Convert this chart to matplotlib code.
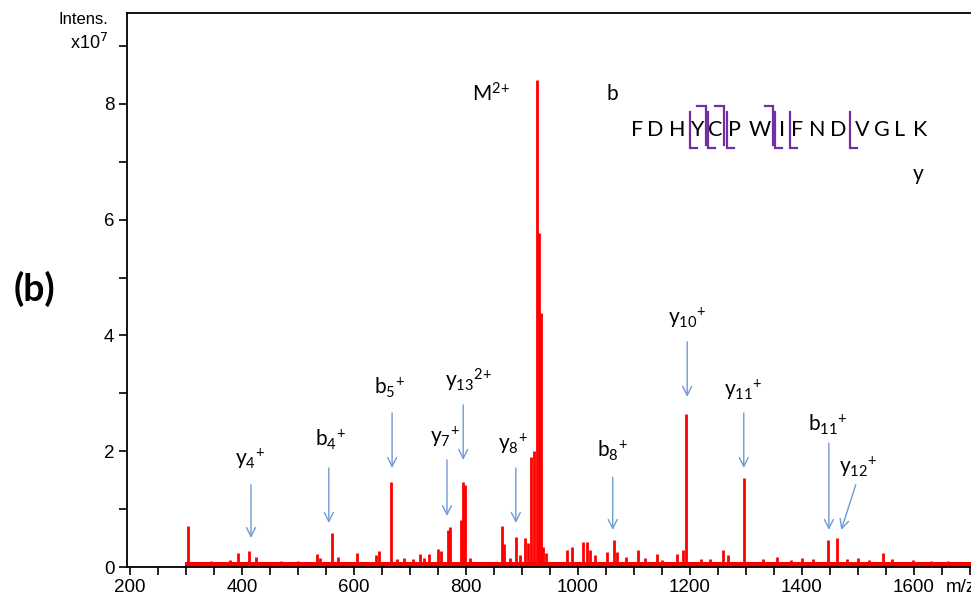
import matplotlib
matplotlib.use("Agg")
import matplotlib.pyplot as plt
from matplotlib.ticker import MultipleLocator, FixedLocator

plt.rcParams["font.family"] = ["Liberation Sans", "DejaVu Sans"]
plt.rcParams["mathtext.fontset"] = "custom"
plt.rcParams["mathtext.rm"] = "Lato"
plt.rcParams["mathtext.it"] = "Lato:italic"
plt.rcParams["mathtext.bf"] = "Lato:bold"

# peak list (m/z, intensity x1e7)
peak_mz = [303.6, 345, 378.6, 392.9, 412.5, 425, 470, 500, 533.9, 539, 560.7,
           571.4, 605.4, 639.3, 644.6, 666, 676.8, 690, 705, 717.9, 725, 734,
           750, 755.4, 767.9, 771.4, 791, 794.6, 798.2, 807, 864.3, 867.9,
           878.6, 889.3, 896, 905.4, 910.7, 916, 921.4, 926.8, 929.5, 933.4,
           937.5, 942.9, 980.4, 989.3, 1008.9, 1016, 1021.4, 1030, 1051.8,
           1064.3, 1069.6, 1085, 1107.1, 1120, 1141, 1150, 1176.8, 1187.5,
           1192.9, 1220, 1235, 1258.9, 1267.9, 1296.4, 1330, 1355.4, 1380,
           1400, 1420, 1446.4, 1462.5, 1480, 1500, 1520, 1544.6, 1560,
           1598.2, 1630, 1660]
peak_int = [0.71, 0.10, 0.12, 0.24, 0.28, 0.17, 0.10, 0.10, 0.22, 0.16, 0.59,
            0.17, 0.24, 0.20, 0.28, 1.47, 0.14, 0.15, 0.14, 0.22, 0.15, 0.22,
            0.31, 0.28, 0.64, 0.69, 0.81, 1.47, 1.42, 0.15, 0.71, 0.40,
            0.15, 0.52, 0.20, 0.50, 0.42, 1.90, 2.00, 8.41, 5.77, 4.39,
            0.35, 0.25, 0.30, 0.34, 0.44, 0.44, 0.29, 0.20, 0.26,
            0.47, 0.26, 0.18, 0.30, 0.15, 0.22, 0.12, 0.22, 0.30,
            2.64, 0.14, 0.13, 0.30, 0.20, 1.54, 0.13, 0.17, 0.12,
            0.16, 0.13, 0.47, 0.50, 0.13, 0.16, 0.12, 0.24, 0.14,
            0.12, 0.11, 0.11]
baseline_start = 298
baseline_end = 1702
baseline_level = 0.09

# fragment annotations: label, label position, arrow tail, arrow head
ion_labels = [r"$\mathrm{y_{4}{}^{+}}$", r"$\mathrm{b_{4}{}^{+}}$",
              r"$\mathrm{b_{5}{}^{+}}$", r"$\mathrm{y_{7}{}^{+}}$",
              r"$\mathrm{y_{13}{}^{2{+}}}$", r"$\mathrm{y_{8}{}^{+}}$",
              r"$\mathrm{b_{8}{}^{+}}$", r"$\mathrm{y_{10}{}^{+}}$",
              r"$\mathrm{y_{11}{}^{+}}$", r"$\mathrm{b_{11}{}^{+}}$",
              r"$\mathrm{y_{12}{}^{+}}$"]
label_xy = [(414, 1.88), (557, 2.19), (664, 3.09), (762, 2.25), (804, 3.23),
            (884, 2.14), (1062, 2.00), (1195, 4.30), (1295, 3.07),
            (1446, 2.45), (1500, 1.73)]
arrow_tail = [(416, 1.42), (555, 1.71), (668, 2.66), (766, 1.85), (795, 2.80),
              (889, 1.71), (1062, 1.55), (1195, 3.89), (1296, 2.66),
              (1448, 2.14), (1496, 1.42)]
arrow_head = [(416, 0.50), (555, 0.76), (668, 1.71), (766, 0.88), (795, 1.85),
              (889, 0.76), (1062, 0.64), (1195, 2.94), (1296, 1.71),
              (1448, 0.64), (1470, 0.64)]

# peptide sequence and cleavage marks
sequence = list("FDHYCPWIFNDVGLK")
seq_mz = [1105, 1137.5, 1176.8, 1212.5, 1244.6, 1278.6, 1325, 1364, 1391,
          1426.8, 1464, 1507, 1543, 1575, 1610.7]
seq_y = 7.55
b_marks = [(1212.5, 1228.6), (1244.6, 1260.7), (1333.9, 1348.2)]
y_marks = [1200, 1232, 1266, 1351.8, 1378.6, 1485.7]

red = "#ff0000"
blue = "#6f9bd3"
purple = "#7030a0"

fig = plt.figure(figsize=(9.71, 6.0), dpi=100)
ax = fig.add_axes([127 / 971, 33 / 600, 844 / 971, 554 / 600])

ax.fill_between([baseline_start, baseline_end], 0, baseline_level,
                color=red, lw=0)
ax.vlines(peak_mz, 0, peak_int, color=red, lw=2.0)

ax.set_xlim(194.6, 1701.8)
ax.set_ylim(0, 9.57)

ax.spines["right"].set_visible(False)
for s in ["left", "top", "bottom"]:
    ax.spines[s].set_linewidth(1.3)

ax.xaxis.set_major_locator(MultipleLocator(200))
ax.xaxis.set_minor_locator(MultipleLocator(50))
ax.yaxis.set_major_locator(FixedLocator([0, 2, 4, 6, 8]))
ax.yaxis.set_minor_locator(FixedLocator([1, 3, 5, 7, 9]))
ax.tick_params(which="both", direction="out", length=6, width=1.2,
               labelsize=13.5, pad=3)

for label, (lx, ly), tail, head in zip(ion_labels, label_xy, arrow_tail, arrow_head):
    ax.text(lx, ly, label, fontsize=15, ha="center", va="center")
    ax.annotate("", xy=head, xytext=tail,
                arrowprops=dict(arrowstyle="->", color=blue, lw=1.0,
                                mutation_scale=16, shrinkA=0, shrinkB=0))

ax.text(845, 8.17, r"$\mathrm{M^{2{+}}}$", fontsize=15, ha="center", va="center")
ax.text(1061, 8.17, "b", fontsize=15, ha="center", va="center", family="Lato")
ax.text(1607, 6.79, "y", fontsize=15, ha="center", va="center", family="Lato")
for letter, mz in zip(sequence, seq_mz):
    ax.text(mz, seq_y, letter, fontsize=15.5, ha="center", va="center",
            family="Lato")

for x0, x1 in b_marks:
    ax.plot([x0, x1, x1], [7.96, 7.96, 7.29], color=purple, lw=1.6,
            solid_joinstyle="miter")
for x0 in y_marks:
    ax.plot([x0, x0, x0 + 12.5], [7.86, 7.24, 7.24], color=purple, lw=1.6,
            solid_joinstyle="miter")

fig.text(108 / 971, 1 - 20 / 600, "Intens.", fontsize=12, ha="right",
         va="center")
fig.text(108 / 971, 1 - 43 / 600, r"x10$^{7}$", fontsize=13, ha="right",
         va="center", math_fontfamily="dejavusans")
fig.text(946 / 971, 1 - 587 / 600, "m/z", fontsize=13.5, ha="left",
         va="center")
fig.text(34 / 971, 1 - 289 / 600, "(b)", fontsize=27, fontweight="bold",
         family="Lato", ha="center", va="center")

fig.savefig("out.png", dpi=100)
